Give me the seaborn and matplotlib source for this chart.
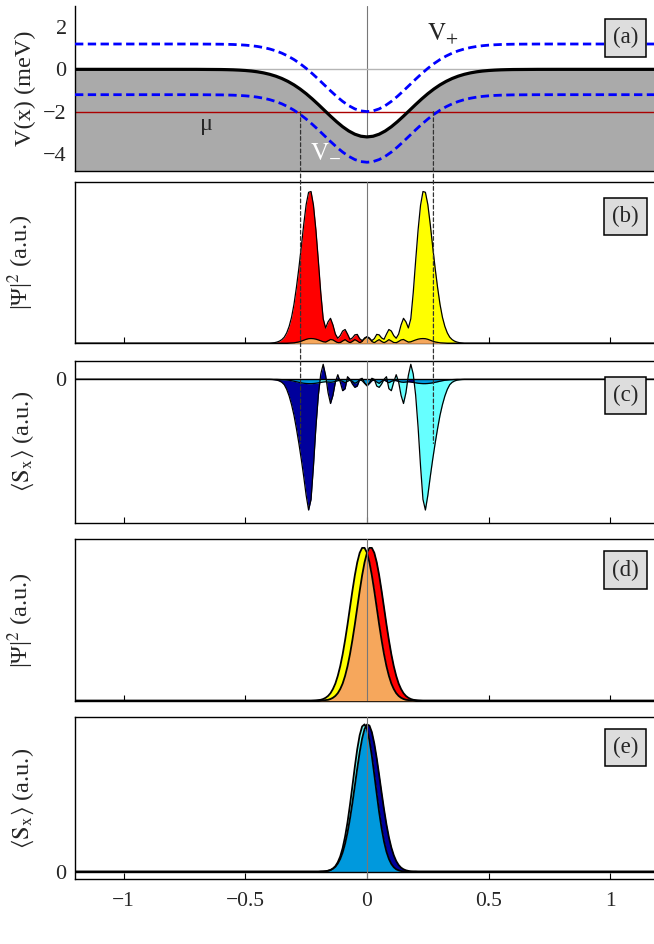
import numpy as np
import matplotlib
matplotlib.use("Agg")
import matplotlib.pyplot as plt
import matplotlib.font_manager as fm
import seaborn as sns
from matplotlib.patches import ConnectionPatch

sns.set_theme(style="white")
serif_name = "Liberation Serif"
for f in fm.findSystemFonts():
    if "LiberationSerif-Regular" in f:
        fm.fontManager.addfont(f)
        serif_name = fm.FontProperties(fname=f).get_name()
        break
plt.rcParams["font.family"] = [serif_name, "DejaVu Serif"]
plt.rcParams["mathtext.fontset"] = "stix"
plt.rcParams["axes.edgecolor"] = "black"

# ---------------- data ----------------
# panel (a): potential profile, chemical potential
x_pot = [-1.2, -0.8, -0.7, -0.6, -0.575, -0.55, -0.525, -0.5, -0.475, -0.45, -0.425, -0.4,
         -0.375, -0.35, -0.325, -0.3, -0.275, -0.25, -0.225, -0.2, -0.175, -0.15, -0.125,
         -0.1, -0.075, -0.05, -0.025, 0.0, 0.025, 0.05, 0.075, 0.1, 0.125, 0.15, 0.175,
         0.2, 0.225, 0.25, 0.275, 0.3, 0.325, 0.35, 0.375, 0.4, 0.425, 0.45, 0.475, 0.5,
         0.525, 0.55, 0.575, 0.6, 0.7, 0.8, 1.2]
V_mid = [0.0, 0.0, -0.001, -0.009, -0.015, -0.023, -0.036, -0.054, -0.080, -0.117, -0.168,
         -0.235, -0.322, -0.433, -0.571, -0.736, -0.931, -1.153, -1.400, -1.665, -1.941,
         -2.216, -2.479, -2.718, -2.919, -3.072, -3.168, -3.200, -3.168, -3.072, -2.919,
         -2.718, -2.479, -2.216, -1.941, -1.665, -1.400, -1.153, -0.931, -0.736, -0.571,
         -0.433, -0.322, -0.235, -0.168, -0.117, -0.080, -0.054, -0.036, -0.023, -0.015,
         -0.009, -0.001, 0.0, 0.0]
V_plus = [1.2, 1.2, 1.199, 1.191, 1.185, 1.177, 1.164, 1.146, 1.120, 1.083, 1.032, 0.965,
          0.878, 0.767, 0.629, 0.464, 0.269, 0.047, -0.200, -0.465, -0.741, -1.016, -1.279,
          -1.518, -1.719, -1.872, -1.968, -2.000, -1.968, -1.872, -1.719, -1.518, -1.279,
          -1.016, -0.741, -0.465, -0.200, 0.047, 0.269, 0.464, 0.629, 0.767, 0.878, 0.965,
          1.032, 1.083, 1.120, 1.146, 1.164, 1.177, 1.185, 1.191, 1.199, 1.2, 1.2]
V_minus = [-1.2, -1.2, -1.201, -1.209, -1.215, -1.223, -1.236, -1.254, -1.280, -1.317,
           -1.368, -1.435, -1.522, -1.633, -1.771, -1.936, -2.131, -2.353, -2.600, -2.865,
           -3.141, -3.416, -3.679, -3.918, -4.119, -4.272, -4.368, -4.400, -4.368, -4.272,
           -4.119, -3.918, -3.679, -3.416, -3.141, -2.865, -2.600, -2.353, -2.131, -1.936,
           -1.771, -1.633, -1.522, -1.435, -1.368, -1.317, -1.280, -1.254, -1.236, -1.223,
           -1.215, -1.209, -1.201, -1.2, -1.2]
mu = -2.0
x_cross = [-0.273, 0.273]

# panels (b), (c): finite-field state
x_bc = [-1.2, -0.40, -0.39, -0.38, -0.37, -0.36, -0.35, -0.34, -0.33, -0.32, -0.31, -0.30,
        -0.29, -0.28, -0.27, -0.26, -0.25, -0.24, -0.23, -0.22, -0.21, -0.20, -0.19, -0.18,
        -0.17, -0.16, -0.15, -0.14, -0.13, -0.12, -0.11, -0.10, -0.09, -0.08, -0.07, -0.06,
        -0.05, -0.04, -0.03, -0.02, -0.01, 0.00, 0.01, 0.02, 0.03, 0.04, 0.05, 0.06, 0.07,
        0.08, 0.09, 0.10, 0.11, 0.12, 0.13, 0.14, 0.15, 0.16, 0.17, 0.18, 0.19, 0.20, 0.21,
        0.22, 0.23, 0.24, 0.25, 0.26, 0.27, 0.28, 0.29, 0.30, 0.31, 0.32, 0.33, 0.34, 0.35,
        0.36, 0.37, 0.38, 0.39, 0.40, 1.2]
psi_red_b = [0.0, 0.000, 0.002, 0.004, 0.008, 0.014, 0.024, 0.040, 0.068, 0.110, 0.170, 0.255,
             0.365, 0.490, 0.630, 0.775, 0.905, 0.985, 0.990, 0.900, 0.740, 0.540, 0.330,
             0.160, 0.100, 0.140, 0.163, 0.120, 0.060, 0.033, 0.050, 0.080, 0.090, 0.060,
             0.026, 0.035, 0.055, 0.058, 0.030, 0.018, 0.030, 0.043, 0.035, 0.012, 0.004,
             0.015, 0.024, 0.012, 0.004, 0.012, 0.024, 0.015, 0.005, 0.004, 0.012, 0.022,
             0.025, 0.016, 0.008, 0.010, 0.016, 0.022, 0.027, 0.030, 0.031, 0.030, 0.026,
             0.020, 0.014, 0.009, 0.006, 0.003, 0.002, 0.001, 0.000, 0.000, 0.000, 0.000,
             0.000, 0.000, 0.000, 0.000, 0.0]
psi_yel_b = [0.0, 0.000, 0.000, 0.000, 0.000, 0.000, 0.000, 0.000, 0.000, 0.001, 0.002, 0.003,
             0.006, 0.009, 0.014, 0.020, 0.026, 0.030, 0.031, 0.030, 0.027, 0.022, 0.016,
             0.010, 0.008, 0.016, 0.025, 0.022, 0.012, 0.004, 0.005, 0.015, 0.024, 0.012,
             0.004, 0.012, 0.024, 0.015, 0.004, 0.012, 0.035, 0.043, 0.030, 0.018, 0.030,
             0.058, 0.055, 0.035, 0.026, 0.060, 0.090, 0.080, 0.050, 0.033, 0.060, 0.120,
             0.163, 0.140, 0.100, 0.160, 0.330, 0.540, 0.740, 0.900, 0.990, 0.985, 0.905,
             0.775, 0.630, 0.490, 0.365, 0.255, 0.170, 0.110, 0.068, 0.040, 0.024, 0.014,
             0.008, 0.004, 0.002, 0.000, 0.0]
sx_dark_c = [0.0, 0.000, -0.001, -0.003, -0.006, -0.012, -0.022, -0.040, -0.075, -0.125,
             -0.190, -0.270, -0.370, -0.480, -0.600, -0.730, -0.870, -0.980, -0.900, -0.650,
             -0.360, -0.120, 0.040, 0.113, 0.030, -0.100, -0.181, -0.120, -0.020, 0.035,
             -0.020, -0.085, -0.070, 0.020, 0.000, -0.035, -0.060, -0.050, 0.000, 0.008,
             -0.025, -0.048, -0.030, -0.010, -0.005, -0.020, -0.030, -0.015, -0.005, -0.015,
             -0.025, -0.015, -0.008, -0.010, -0.015, -0.020, -0.022, -0.020, -0.018, -0.020,
             -0.023, -0.026, -0.029, -0.031, -0.032, -0.032, -0.031, -0.029, -0.026, -0.022,
             -0.018, -0.014, -0.010, -0.007, -0.005, -0.003, -0.002, -0.001, 0.000, 0.000,
             0.000, 0.000, 0.0]
sx_cyan_c = [0.0, 0.000, 0.000, 0.000, 0.000, -0.001, -0.002, -0.003, -0.005, -0.007, -0.010,
             -0.014, -0.018, -0.022, -0.026, -0.029, -0.031, -0.032, -0.032, -0.031, -0.029,
             -0.026, -0.023, -0.020, -0.018, -0.020, -0.022, -0.020, -0.015, -0.010, -0.008,
             -0.015, -0.025, -0.015, -0.005, -0.015, -0.030, -0.020, -0.005, -0.010, -0.030,
             -0.048, -0.025, 0.008, 0.000, -0.050, -0.060, -0.035, 0.000, 0.020, -0.070,
             -0.085, -0.020, 0.035, -0.020, -0.120, -0.181, -0.100, 0.030, 0.113, 0.040,
             -0.120, -0.360, -0.650, -0.900, -0.980, -0.870, -0.730, -0.600, -0.480, -0.370,
             -0.270, -0.190, -0.125, -0.075, -0.040, -0.022, -0.012, -0.006, -0.003, -0.001,
             0.000, 0.0]

# panels (d), (e): zero-field state
x_de = [-1.2, -0.25, -0.24, -0.23, -0.22, -0.21, -0.20, -0.19, -0.18, -0.17, -0.16, -0.15,
        -0.14, -0.13, -0.12, -0.11, -0.10, -0.09, -0.08, -0.07, -0.06, -0.05, -0.04, -0.03,
        -0.02, -0.01, 0.00, 0.01, 0.02, 0.03, 0.04, 0.05, 0.06, 0.07, 0.08, 0.09, 0.10,
        0.11, 0.12, 0.13, 0.14, 0.15, 0.16, 0.17, 0.18, 0.19, 0.20, 0.21, 0.22, 0.23, 0.24,
        0.25, 1.2]
psi_yel_d = [0.0, 0.000, 0.000, 0.000, 0.001, 0.002, 0.004, 0.006, 0.011, 0.019, 0.031, 0.049,
             0.076, 0.112, 0.162, 0.225, 0.303, 0.395, 0.497, 0.607, 0.716, 0.817, 0.902,
             0.964, 0.996, 0.996, 0.964, 0.902, 0.817, 0.716, 0.607, 0.497, 0.395, 0.303,
             0.225, 0.162, 0.112, 0.076, 0.049, 0.031, 0.019, 0.011, 0.006, 0.004, 0.002,
             0.001, 0.000, 0.000, 0.000, 0.000, 0.000, 0.000, 0.0]
psi_red_d = [0.0, 0.000, 0.000, 0.000, 0.000, 0.000, 0.000, 0.001, 0.002, 0.004, 0.006, 0.011,
             0.019, 0.031, 0.049, 0.076, 0.112, 0.162, 0.225, 0.303, 0.395, 0.497, 0.607,
             0.716, 0.817, 0.902, 0.964, 0.996, 0.996, 0.964, 0.902, 0.817, 0.716, 0.607,
             0.497, 0.395, 0.303, 0.225, 0.162, 0.112, 0.076, 0.049, 0.031, 0.019, 0.011,
             0.006, 0.004, 0.002, 0.001, 0.000, 0.000, 0.000, 0.0]
sx_cyan_e = [0.0, 0.000, 0.000, 0.000, 0.000, 0.000, 0.000, 0.001, 0.001, 0.003, 0.006, 0.011,
             0.021, 0.037, 0.064, 0.103, 0.160, 0.238, 0.335, 0.452, 0.580, 0.711, 0.831,
             0.926, 0.985, 0.999, 0.967, 0.892, 0.785, 0.659, 0.528, 0.403, 0.294, 0.204,
             0.135, 0.086, 0.052, 0.030, 0.016, 0.009, 0.004, 0.002, 0.001, 0.000, 0.000,
             0.000, 0.000, 0.000, 0.000, 0.000, 0.000, 0.000, 0.0]
sx_dark_e = [0.0, 0.000, 0.000, 0.000, 0.000, 0.000, 0.000, 0.001, 0.002, 0.003, 0.006, 0.011,
             0.020, 0.033, 0.055, 0.086, 0.130, 0.190, 0.266, 0.359, 0.466, 0.583, 0.701,
             0.811, 0.903, 0.968, 0.998, 0.991, 0.946, 0.869, 0.769, 0.654, 0.536, 0.422,
             0.320, 0.233, 0.164, 0.111, 0.072, 0.045, 0.027, 0.016, 0.009, 0.005, 0.002,
             0.001, 0.001, 0.000, 0.000, 0.000, 0.000, 0.000, 0.0]

x_ticks = [-1, -0.5, 0, 0.5, 1]
x_tick_labels = ["\u22121", "\u22120.5", "0", "0.5", "1"]
panel_tags = ["(a)", "(b)", "(c)", "(d)", "(e)"]

# ---------------- colours ----------------
C_RED, C_YEL, C_ORA = "#ff0000", "#ffff00", "#f6a75c"
C_DARK, C_CYAN, C_MID = "#00009c", "#66ffff", "#0099dd"


def overlap(a, b):
    a = np.asarray(a, float)
    b = np.asarray(b, float)
    return np.where(a * b > 0, np.sign(a) * np.minimum(np.abs(a), np.abs(b)), 0.0)


def outline(ax, x, y, lw=0.9, z=5):
    sns.lineplot(x=x, y=y, ax=ax, color="black", lw=lw, estimator=None, sort=False,
                 legend=False, zorder=z)


# ---------------- figure ----------------
W, H = 654, 944
fig = plt.figure(figsize=(W / 100, H / 100), dpi=100)
left_px, right_px = 75, 659
tops = [6, 181.7, 360.7, 539, 717.3]
bots = [170.7, 343.3, 522.7, 700.7, 879.3]
axes = []
for t, b in zip(tops, bots):
    axes.append(fig.add_axes([left_px / W, 1 - b / H, (right_px - left_px) / W, (b - t) / H]))
axA, axB, axC, axD, axE = axes

TICK_FS, LAB_FS = 15.5, 17.5

for ax in axes:
    ax.set_xlim(-1.2, 1.2)
    ax.set_xticks(x_ticks)
    ax.tick_params(axis="x", direction="in", length=4, width=0.8, color="black",
                   bottom=True, top=False, labelbottom=False)
    ax.tick_params(axis="y", length=0, labelsize=TICK_FS + 0.5, pad=6)
    for s in ax.spines.values():
        s.set_linewidth(1.0)
        s.set_color("black")
    ax.set_xlabel("")
    ax.set_ylabel("")

# (a)
axA.set_ylim(-4.8, 3.0)
axA.fill_between(x_pot, V_mid, -6, color="#aaaaaa", lw=0, zorder=1)
axA.axvline(0, color="#777777", lw=0.8, zorder=0.5)
axA.axhline(0, color="#b5b5b5", lw=1.0, zorder=0.8)
axA.axhline(mu, color="#aa0000", lw=1.0, zorder=2)
sns.lineplot(x=x_pot, y=V_mid, ax=axA, color="black", lw=2.3, estimator=None, sort=False,
             legend=False, zorder=3)
for vv in (V_plus, V_minus):
    sns.lineplot(x=x_pot, y=vv, ax=axA, color="#0000ff", lw=2.0, linestyle=(0, (3, 1.6)),
                 estimator=None, sort=False, legend=False, zorder=4)
axA.set_yticks([-4, -2, 0, 2])
axA.set_yticklabels(["\u22124", "\u22122", "0", "2"])
axA.spines["top"].set_visible(False)
axA.text(-0.66, -2.6, "\u03bc", fontsize=17.5, ha="center", va="center", zorder=6)
axA.text(0.31, 1.7, r"$\mathrm{V}_{+}$", fontsize=18, ha="center", va="center", zorder=6)
axA.text(-0.17, -3.85, r"$\mathrm{V}_{-}$", fontsize=18, ha="center", va="center",
         color="white", zorder=6)
axA.set_ylabel("V(x) (meV)", fontsize=LAB_FS)

# (b)
axB.set_ylim(0, 1.054)
axB.fill_between(x_bc, 0, psi_red_b, color=C_RED, lw=0, zorder=2)
axB.fill_between(x_bc, 0, psi_yel_b, color=C_YEL, lw=0, zorder=2)
axB.fill_between(x_bc, 0, overlap(psi_red_b, psi_yel_b), color=C_ORA, lw=0, zorder=3)
outline(axB, x_bc, psi_red_b)
outline(axB, x_bc, psi_yel_b)
axB.axvline(0, color="#777777", lw=0.8, zorder=6)
axB.set_yticks([])
axB.set_ylabel("|\u03a8|$^2$ (a.u.)", fontsize=LAB_FS)

# (c)
axC.set_ylim(-1.075, 0.14)
axC.fill_between(x_bc, 0, sx_dark_c, color=C_DARK, lw=0, zorder=2)
axC.fill_between(x_bc, 0, sx_cyan_c, color=C_CYAN, lw=0, zorder=2)
axC.fill_between(x_bc, 0, overlap(sx_dark_c, sx_cyan_c), color=C_MID, lw=0, zorder=3)
axC.axhline(0, color="black", lw=1.0, zorder=4)
outline(axC, x_bc, sx_dark_c)
outline(axC, x_bc, sx_cyan_c)
axC.axvline(0, color="#777777", lw=0.8, zorder=6)
axC.set_yticks([0])
axC.set_ylabel(r"$\langle\mathrm{S}_\mathrm{x}\rangle$ (a.u.)", fontsize=LAB_FS)

# (d)
axD.set_ylim(0, 1.054)
axD.fill_between(x_de, 0, psi_red_d, color=C_RED, lw=0, zorder=2)
axD.fill_between(x_de, 0, psi_yel_d, color=C_YEL, lw=0, zorder=2)
axD.fill_between(x_de, 0, overlap(psi_red_d, psi_yel_d), color=C_ORA, lw=0, zorder=3)
outline(axD, x_de, psi_red_d, lw=1.3)
outline(axD, x_de, psi_yel_d, lw=1.3)
axD.axvline(0, color="#777777", lw=0.8, zorder=6)
axD.set_yticks([])
axD.set_ylabel("|\u03a8|$^2$ (a.u.)", fontsize=LAB_FS)

# (e)
axE.set_ylim(-0.052, 1.047)
axE.fill_between(x_de, 0, sx_dark_e, color=C_DARK, lw=0, zorder=2)
axE.fill_between(x_de, 0, sx_cyan_e, color=C_CYAN, lw=0, zorder=2)
axE.fill_between(x_de, 0, overlap(sx_dark_e, sx_cyan_e), color=C_MID, lw=0, zorder=3)
axE.axhline(0, color="black", lw=1.0, zorder=4)
outline(axE, x_de, sx_dark_e, lw=1.3)
outline(axE, x_de, sx_cyan_e, lw=1.3)
axE.axvline(0, color="#777777", lw=0.8, zorder=6)
axE.set_yticks([0])
axE.set_ylabel(r"$\langle\mathrm{S}_\mathrm{x}\rangle$ (a.u.)", fontsize=LAB_FS)
axE.tick_params(axis="x", labelbottom=True, labelsize=TICK_FS, pad=9)
axE.set_xticklabels(x_tick_labels)
axE.set_xlabel("Position (\u03bcm)", fontsize=17, labelpad=10)

for ax in axes:
    ax.yaxis.set_label_coords(-0.067, 0.5)

# panel tags
tag_y = [0.806, 0.783, 0.785, 0.808, 0.814]
for ax, tag, ty in zip(axes, panel_tags, tag_y):
    ax.text(0.9426, ty, tag, transform=ax.transAxes, fontsize=16.5, ha="center", va="center",
            zorder=10,
            bbox=dict(boxstyle="square,pad=0.35", fc="#dddddd", ec="black", lw=1.1))

# dashed guide lines from (a) to (c)
for xc in x_cross:
    con = ConnectionPatch(xyA=(xc, mu), coordsA=axA.transData,
                          xyB=(xc, -0.48), coordsB=axC.transData,
                          color="#333333", lw=0.9, linestyle=(0, (3, 2)), zorder=20)
    fig.add_artist(con)

fig.savefig("out.png", dpi=100)
